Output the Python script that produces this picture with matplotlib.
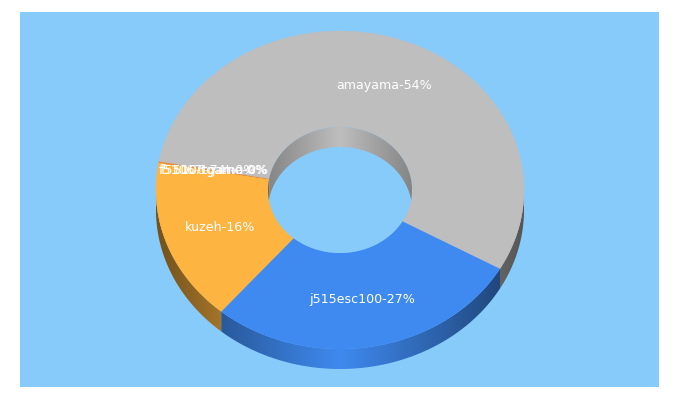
import numpy as np
import matplotlib
matplotlib.use("Agg")
import matplotlib.pyplot as plt
from matplotlib.patches import Ellipse, Polygon

labels = ["j515esc100-27%", "kuzeh-16%", "f5100-tgame-0%", "5106-74t-0%", "f51067tgama-0%", "amayama-54%"]
values = [27.95, 16.6, 0.04, 0.04, 0.04, 55.33]
colors = ["#3F8AF0", "#FDB441", "#EE8A3A", "#EE8A3A", "#EE8A3A", "#BEBEBE"]
START = 29.6
BG = "#87CBFB"
CX, CY, RX, RY, IRX, IRY, DEPTH = 340, 190, 184, 159, 72, 63, 20

fig = plt.figure(figsize=(6.8, 4.0), dpi=100, facecolor="white")
ax = fig.add_axes([0, 0, 1, 1])
ax.set_xlim(0, 680)
ax.set_ylim(400, 0)
ax.axis("off")
ax.add_patch(plt.Rectangle((20, 12), 639, 375, fc=BG, ec="none", zorder=0))


def pts(t, rx, ry, dy=0):
    r = np.radians(t)
    return np.column_stack([CX + rx * np.cos(r), CY + dy + ry * np.sin(r)])


def gradient(colour, poly, rx, strength, zorder):
    """Fill poly with a colour that darkens linearly towards both ends of the ellipse."""
    xs = np.linspace(CX - rx, CX + rx, 400)
    f = 1 - strength * np.abs(xs - CX) / rx
    rgb = np.outer(f, matplotlib.colors.to_rgb(colour))[None, :, :]
    im = ax.imshow(rgb, extent=(CX - rx, CX + rx, 400, 0), aspect="auto",
                   interpolation="bilinear", zorder=zorder)
    patch = Polygon(poly, transform=ax.transData, fc="none", ec="none")
    ax.add_patch(patch)
    im.set_clip_path(patch)
    return im


edges = START + np.concatenate([[0], np.cumsum(values)]) * 3.6

# outer side wall (front half only)
for a, b, c in zip(edges[:-1], edges[1:], colors):
    for s in (0, 360):
        lo, hi = max(a - s, 0), min(b - s, 180)
        if hi <= lo:
            continue
        seg = np.linspace(lo, hi, max(int(hi - lo) * 2, 2))
        gradient(c, np.vstack([pts(seg, RX, RY), pts(seg[::-1], RX, RY, DEPTH)]), RX, 0.55, 1)

# top faces
for a, b, c in zip(edges[:-1], edges[1:], colors):
    seg = np.linspace(a, b, max(int(b - a) * 2, 2))
    poly = np.vstack([pts(seg, RX, RY), pts(seg[::-1], IRX, IRY)])
    ax.add_patch(Polygon(poly, fc=c, ec=c, lw=0.3, zorder=2))

# hole
ax.add_patch(Ellipse((CX, CY), 2 * IRX, 2 * IRY, fc=BG, ec="none", zorder=3))

# inner wall, seen at the back of the hole
for a, b, c in zip(edges[:-1], edges[1:], colors):
    for s in (0, 360):
        lo, hi = max(a - s, 180), min(b - s, 360)
        if hi <= lo:
            continue
        seg = np.linspace(lo, hi, max(int(hi - lo) * 2, 2))
        top = pts(seg, IRX, IRY)
        bot = pts(seg, IRX, IRY, DEPTH)
        limit = CY + IRY * np.sqrt(np.clip(1 - ((bot[:, 0] - CX) / IRX) ** 2, 0, 1))
        bot[:, 1] = np.minimum(bot[:, 1], limit)
        strength = 0.3 if c == "#BEBEBE" else 0.45
        gradient(c, np.vstack([top, bot[::-1]]), IRX, strength, 4)

ax.set_xlim(0, 680)
ax.set_ylim(400, 0)

# labels at the middle of each ring slice
mids = (edges[:-1] + edges[1:]) / 2
for lab, m in zip(labels, mids):
    x, y = pts(np.array([m]), (RX + IRX) / 2, (RY + IRY) / 2)[0]
    ax.text(x, y + 3.5, lab, color="white", fontsize=9.1, family="DejaVu Sans",
            ha="center", va="baseline", zorder=6)

fig.savefig("out.png", dpi=100, facecolor="white")
